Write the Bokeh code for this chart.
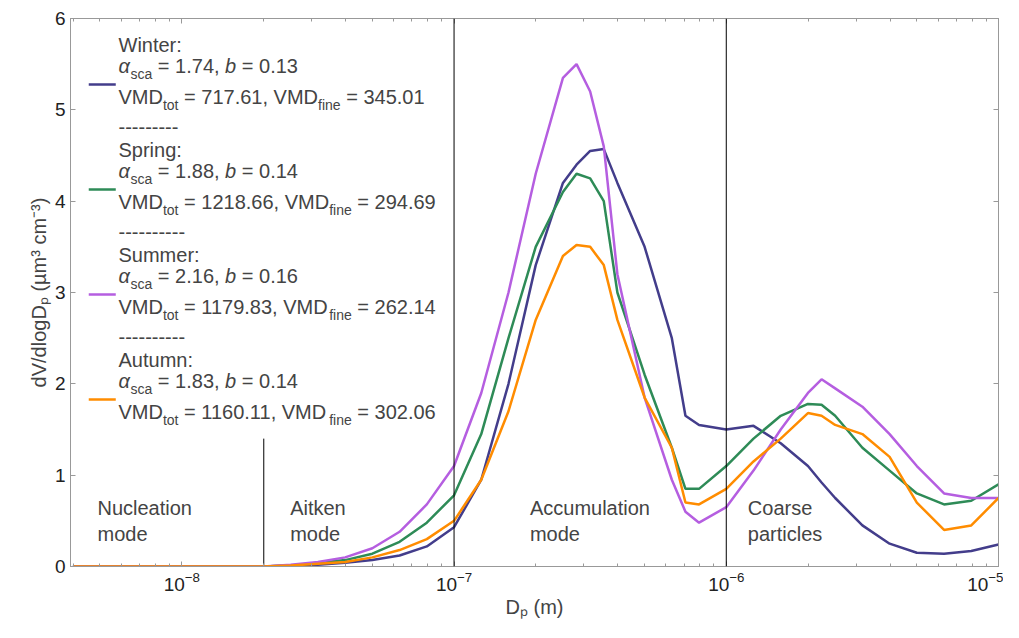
from bokeh.plotting import figure
from bokeh.models import Label, Span, LinearAxis, LogAxis, FixedTicker
from bokeh.embed import file_html
from bokeh.resources import INLINE

# log10 of particle diameter (m)
log_dp = [-8.4, -8.0, -7.7, -7.6, -7.5, -7.4, -7.3, -7.2, -7.1, -7.0, -6.9, -6.8, -6.7, -6.6, -6.55,
          -6.5, -6.45, -6.4, -6.3, -6.2, -6.15, -6.1, -6.0, -5.9, -5.8, -5.7, -5.65, -5.6, -5.5,
          -5.4, -5.3, -5.2, -5.1, -5.0]
winter = [0, 0, 0, 0.01, 0.02, 0.04, 0.07, 0.12, 0.22, 0.43, 0.95, 2.0, 3.3, 4.2, 4.4,
          4.55, 4.57, 4.2, 3.5, 2.5, 1.65, 1.55, 1.5, 1.54, 1.35, 1.1, 0.92, 0.75, 0.45,
          0.25, 0.15, 0.14, 0.17, 0.24]
spring = [0, 0, 0, 0.01, 0.04, 0.07, 0.14, 0.27, 0.48, 0.78, 1.45, 2.5, 3.5, 4.1, 4.3,
          4.25, 4.0, 3.0, 2.1, 1.3, 0.85, 0.85, 1.1, 1.4, 1.65, 1.78, 1.77, 1.65, 1.3,
          1.05, 0.8, 0.68, 0.72, 0.9]
summer = [0, 0, 0, 0.02, 0.05, 0.1, 0.2, 0.38, 0.68, 1.1, 1.9, 3.0, 4.3, 5.35, 5.5,
          5.2, 4.6, 3.2, 1.85, 0.95, 0.6, 0.48, 0.65, 1.05, 1.5, 1.9, 2.05, 1.95, 1.75,
          1.45, 1.1, 0.8, 0.75, 0.75]
autumn = [0, 0, 0, 0.01, 0.03, 0.05, 0.1, 0.18, 0.3, 0.5, 0.95, 1.7, 2.7, 3.4, 3.52,
          3.5, 3.3, 2.7, 1.85, 1.3, 0.7, 0.68, 0.85, 1.15, 1.4, 1.68, 1.65, 1.55, 1.45,
          1.2, 0.7, 0.4, 0.45, 0.75]

seasons = ["Winter", "Spring", "Summer", "Autumn"]
colors = ["#433d8b", "#2e8b57", "#b55ee0", "#ff8c00"]
alpha_sca = ["1.74", "1.88", "2.16", "1.83"]
b_vals = ["0.13", "0.14", "0.16", "0.14"]
vmd_tot = ["717.61", "1218.66", "1179.83", "1160.11"]
vmd_fine = ["345.01", "294.69", "262.14", "302.06"]

modes = ["Nucleation\nmode", "Aitken\nmode", "Accumulation\nmode", "Coarse\nparticles"]
mode_x = [4.9e-9, 2.5e-8, 1.9e-7, 1.2e-6]

FONT = "Liberation Sans"
FS = 20
SUB = 14
NB = "\u00a0"

dp = [10 ** v for v in log_dp]

p = figure(width=1003, height=622, x_axis_type="log", x_range=(3.9e-9, 1e-5), y_range=(0, 6),
           output_backend="svg", toolbar_location=None,
           min_border_left=70, min_border_right=5, min_border_top=18, min_border_bottom=56)
p.grid.visible = False
p.outline_line_color = "#999999"

x_major = [1e-8, 1e-7, 1e-6, 1e-5]
x_minor = [m * 10 ** e for e in range(-9, -5) for m in range(2, 10)]

for ax in [p.xaxis[0], p.yaxis[0]]:
    ax.major_label_text_font = FONT
    ax.major_label_text_font_size = "19px"
    ax.major_label_text_color = "#222222"
    ax.axis_label_text_font = FONT
    ax.axis_label_text_font_size = "20px"
    ax.axis_label_text_font_style = "normal"
    ax.major_tick_in = 5
    ax.major_tick_out = 0
    ax.minor_tick_in = 3
    ax.minor_tick_out = 0
    ax.axis_line_color = "#999999"
    ax.major_tick_line_color = "#999999"
    ax.minor_tick_line_color = "#999999"
    ax.major_label_standoff = 5
    ax.axis_label_standoff = 2

p.xaxis.ticker = FixedTicker(ticks=x_major, minor_ticks=x_minor)
p.yaxis.ticker = FixedTicker(ticks=[0, 1, 2, 3, 4, 5, 6])
p.yaxis.minor_tick_line_color = None
p.xaxis.axis_label = "Dₚ (m)"
p.yaxis.axis_label = "dV/dlogDₚ (µm³ cm⁻³)"

top = LogAxis(ticker=FixedTicker(ticks=x_major, minor_ticks=x_minor),
              major_label_text_color=None, major_tick_in=5, major_tick_out=0,
              minor_tick_in=3, minor_tick_out=0, major_label_standoff=0,
              axis_line_color="#999999", major_tick_line_color="#999999", minor_tick_line_color="#999999")
right = LinearAxis(ticker=FixedTicker(ticks=[0, 1, 2, 3, 4, 5, 6]),
                   major_label_text_color=None, major_tick_in=5, major_tick_out=0,
                   minor_tick_line_color=None, major_label_standoff=0,
                   axis_line_color="#999999", major_tick_line_color="#999999")
p.add_layout(top, "above")
p.add_layout(right, "right")

p.add_layout(Span(location=1e-7, dimension="height", line_color="black", line_width=1))
p.add_layout(Span(location=1e-6, dimension="height", line_color="black", line_width=1))
p.segment(x0=[2e-8], y0=[0], x1=[2e-8], y1=[1.4], line_color="black", line_width=1)

for name, col, ys in zip(seasons, colors, [winter, spring, summer, autumn]):
    p.line(dp, ys, line_color=col, line_width=2.5)

for txt, mx in zip(modes, mode_x):
    p.add_layout(Label(x=mx, y=0.76, text=txt, text_font=FONT, text_font_size=f"{FS}px",
                       text_baseline="top", text_line_height=1.2))

# rich-text legend; screen units are relative to the plot frame
W = {"0": 556, "1": 556, "2": 556, "3": 556, "4": 556, "5": 556, "6": 556, "7": 556, "8": 556,
     "9": 556, ".": 278, ",": 278, " ": 278, NB: 278, "=": 584, "V": 667, "M": 833, "D": 722,
     "t": 278, "o": 556, "f": 278, "i": 222, "n": 556, "e": 556, "s": 500, "c": 500, "a": 556,
     "b": 556, "α": 600}


def width(s, size):
    return sum(W.get(ch, 556) for ch in s) * size / 1000


def rich(parts, px, py):
    x = px - 70
    for txt, kind in parts:
        size = SUB if kind == "sub" else FS
        dy = -8 if kind == "sub" else 0
        p.add_layout(Label(x=x, y=566 - py + dy, x_units="screen", y_units="screen",
                           text=txt.replace(" ", NB),
                           text_font=FONT, text_font_size=f"{size}px", text_baseline="middle",
                           text_font_style="italic" if kind == "i" else "normal"))
        x += width(txt, size)


for i, (name, col) in enumerate(zip(seasons, colors)):
    base = 44 + i * 105
    rich([(name + ":", "n")], 118, base)
    rich([("α", "i"), ("sca", "sub"), (" = " + alpha_sca[i] + ", ", "n"), ("b", "i"),
          (" = " + b_vals[i], "n")], 118, base + 21)
    rich([("VMD", "n"), ("tot", "sub"), (" = " + vmd_tot[i] + ", VMD", "n"), ("fine", "sub"),
          (" = " + vmd_fine[i], "n")], 118, base + 52)
    if i < 3:
        rich([("-" * (9 if i == 0 else 10), "n")], 118, base + 82)
    x_a = 10 ** (-7 + (88 - 453) / 272)
    x_b = 10 ** (-7 + (115 - 453) / 272)
    yv = (566 - (base + 40)) / 91.33
    p.segment(x0=[x_a], y0=[yv], x1=[x_b], y1=[yv], line_color=col, line_width=2.5)

open("out.html", "w").write(file_html(p, INLINE))
